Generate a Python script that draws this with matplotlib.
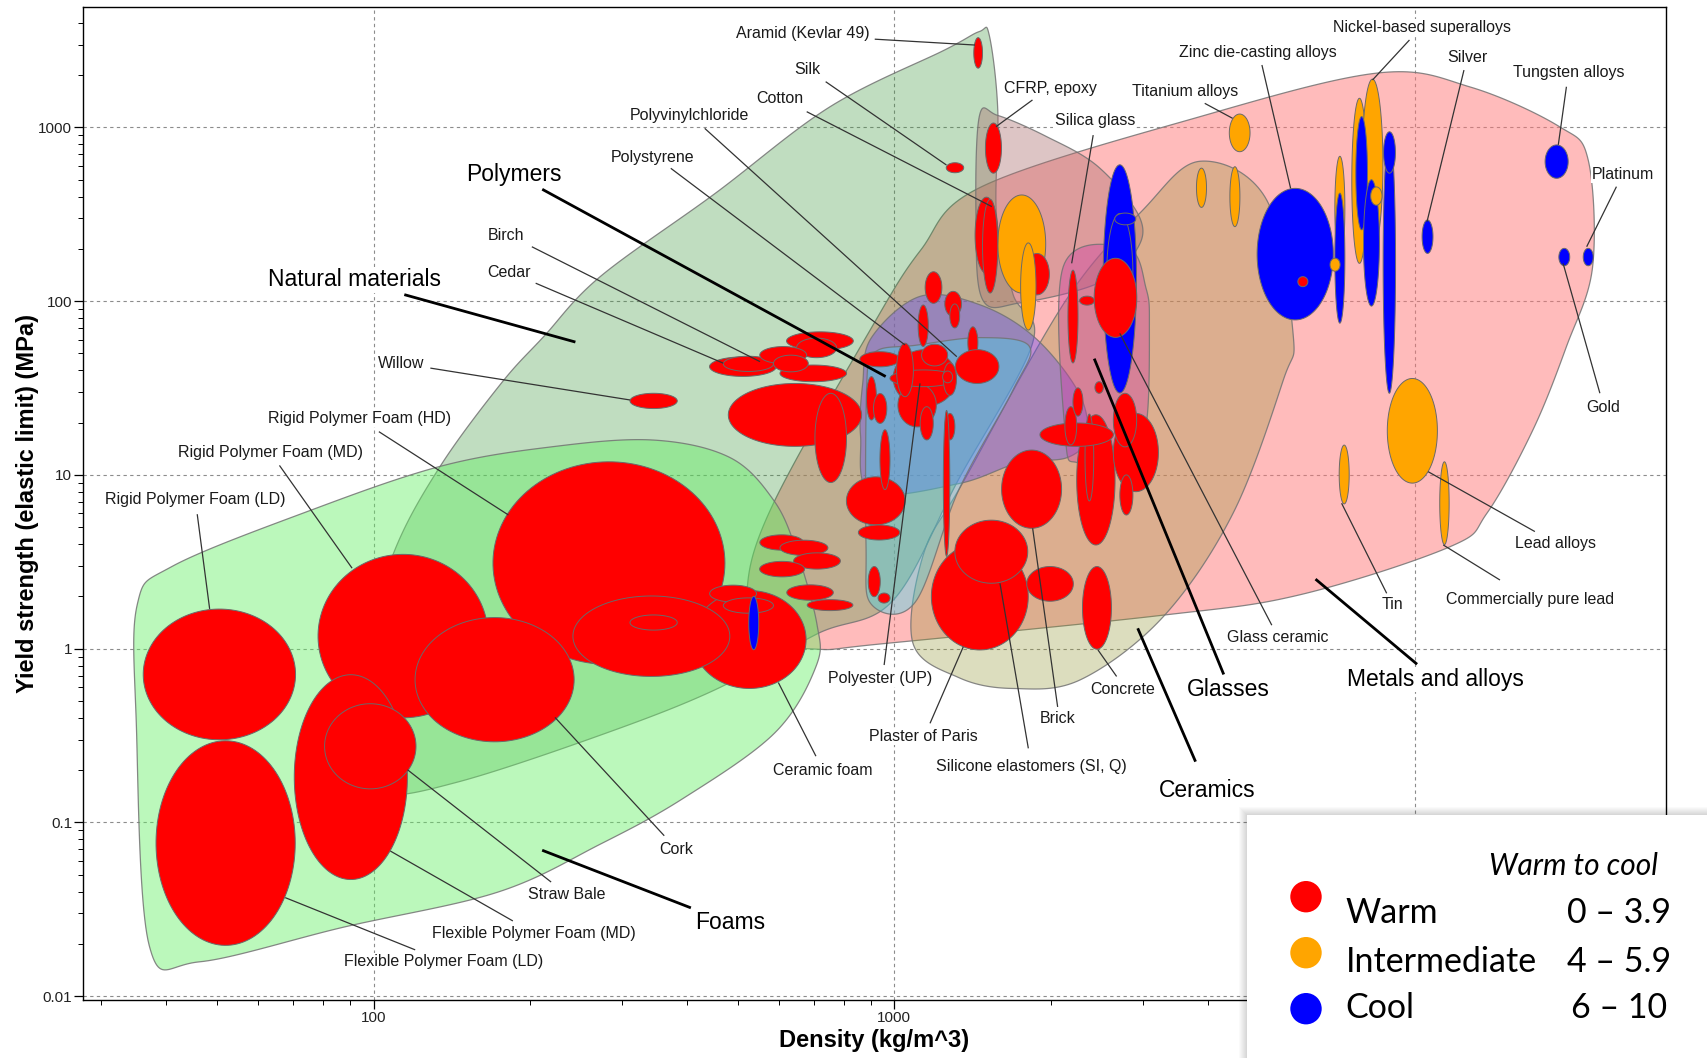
import numpy as np
import matplotlib
matplotlib.use("Agg")
import matplotlib.pyplot as plt
from matplotlib.patches import Circle, Rectangle
from matplotlib.transforms import Affine2D
from matplotlib.ticker import LogLocator, FixedLocator, FixedFormatter, NullFormatter

# ---------------- family envelopes (density kg/m^3, yield strength MPa) ----------------
metals_rho = [521.8, 558.3, 710.3, 948.4, 3240, 6001, 11670, 13750, 16830, 19540, 21930, 21510,
              18890, 12785, 8490, 3870, 1477, 1122, 891, 586]
metals_sig = [2.23, 1.16, 0.993, 1.067, 1.552, 2.04, 3.86, 6.03, 18.07, 54.9, 157.6, 648.5,
              1015, 1706, 2058, 1155, 458.5, 195.6, 65.3, 6.87]
ceramics_rho = [1085, 1329, 1690, 2279, 3287, 4474, 5584, 5831, 5195, 3870, 2999, 2140, 1354, 1139]
ceramics_sig = [1.083, 0.682, 0.590, 0.663, 1.531, 6.03, 35.1, 65.3, 380, 639, 333.8, 102.2, 9.04, 3.54]
natural_rho = [103.4, 93.9, 96.2, 109.6, 134.2, 175.7, 212.1, 272.3, 451.6, 752.7, 1248, 1456, 1521,
               1580, 1572, 1690, 1843, 1329, 995.2, 710.3, 453.8, 272.3, 144.9]
natural_sig = [0.1477, 0.2557, 0.937, 3.64, 11.2, 33.6, 62.5, 138.4, 414.6, 1316, 2787, 3562, 3411,
               1260, 301.6, 109.8, 57.4, 9.44, 1.90, 1.215, 0.582, 0.3175, 0.1706]
composites_rho = [1456, 1580, 1953, 2462, 2955, 2913, 2462, 1748, 1477, 1435]
composites_sig = [1155, 1172, 890.8, 594.8, 306.1, 195.6, 126.9, 97.9, 102.2, 301.6]
polymers_rho = [869.5, 903.9, 1122, 1463, 1862, 2257, 2346, 2151, 1732, 1329, 904, 861.2]
polymers_sig = [33.6, 61.7, 106.7, 95.1, 61.7, 29.97, 16.8, 12.6, 11.72, 8.91, 7.94, 16.8]
elastomers_rho = [886.6, 925.7, 1096, 1463, 1817, 1690, 1329, 1096, 904, 882.3]
elastomers_sig = [37.2, 51.8, 55.7, 61.7, 54.9, 30.8, 8.17, 1.847, 1.795, 3.97]
glasses_rho = [2110, 2803, 3045, 3089, 3045, 2803, 2257, 2130]
glasses_sig = [157.6, 201.4, 118.1, 71.2, 19.4, 12.6, 11.72, 16.8]
foams_rho = [35.16, 41.02, 74.2, 134.2, 221.4, 344.9, 483.1, 586, 648.3, 710.3, 707, 588.8, 392.8,
             272.3, 173.2, 87.8, 46.3, 37.07, 35.0]
foams_sig = [1.795, 2.975, 6.12, 11.2, 14.55, 15.87, 12.6, 7.17, 3.69, 1.38, 0.788, 0.3266, 0.1373,
             0.0749, 0.0397, 0.0250, 0.01576, 0.01956, 0.383]

# ---------------- materials (ranges) ----------------
mat_names = [
    "Rigid Polymer Foam (LD)", "Flexible Polymer Foam (LD)", "Rigid Polymer Foam (MD)",
    "Flexible Polymer Foam (MD)", "Rigid Polymer Foam (HD)", "Ceramic foam", "Cork",
    "Flexible Polymer Foam (HD)", "Balsa (T)", "Straw Bale", "Softwood (T) a", "Softwood (T) b",
    "Metal foam",
    "Hardwood (T) a", "Hardwood (T) b", "Hardwood (T) c", "Hardwood (T) d", "Hardwood (T) e", "Hardwood (T) f",
    "Willow", "Bamboo", "Pine", "Cedar", "Oak", "Ash", "Birch", "Maple", "Beech", "Leather", "Hemp",
    "EVA", "Polyurethane", "Butyl rubber", "Natural rubber",
    "PE", "PP", "Ionomer", "PET", "Polystyrene", "PMMA", "PA", "PC", "ABS", "Neoprene", "Isoprene",
    "PTFE", "Epoxy", "Polyester (UP)", "Silicone (low)", "PVC flexible", "PEEK", "Phenolic", "PVC",
    "Aramid (Kevlar 49)", "Silk", "CFRP, epoxy", "GFRP", "Cotton", "Flax", "Bone", "Glass fibre",
    "Plaster of Paris", "Silicone elastomers (SI, Q)", "Stone", "Brick", "Concrete", "Granite", "Marble",
    "Sandstone", "Limestone", "Porcelain", "Earthenware", "Soda-lime glass", "Borosilicate glass",
    "Pyrex", "Alumina", "Silicon carbide", "Silicon nitride", "Silica glass", "Glass (float)", "Glass ceramic",
    "Titanium alloys", "Magnesium alloys", "Aluminium alloys", "Zinc die-casting alloys", "Zinc (pure)",
    "Stainless steel", "Cast iron", "Carbon steel", "Bronze", "Nickel-based superalloys", "Low alloy steel",
    "Brass", "Nickel alloys", "Copper", "Cobalt alloys", "Silver", "Tungsten alloys", "Gold", "Platinum",
    "Lead alloys", "Tin", "Commercially pure lead",
]
dens_lo = [36.1, 38.2, 78.2, 70.4, 169.5, 410.2, 120.1, 241.4, 310.7, 80.5, 441.9, 469.4, 525.3,
           551.7, 603.1, 640.6, 551.2, 621.5, 680.2,
           310.7, 479.9, 441.7, 469.4, 620.9, 648.9, 551.5, 603.1, 586.0, 703.9, 858.4,
           809, 853, 891, 930.7,
           1146, 1250, 1111, 1384, 1310, 995, 1128, 1016, 981, 884, 912, 1121, 1251, 1242, 938.4, 1010,
           1242, 1238, 1278,
           1421, 1258, 1496, 1580, 1429, 1477, 1779, 1748,
           1178, 1307, 1796, 1607, 2298, 2240, 2634, 2634, 2711, 2324, 1904, 2126, 2203, 2428,
           2518, 2558, 2650, 2155, 2269, 2420,
           4399, 3804, 4410, 4974, 5956, 7015, 7015, 6867, 7561, 7914, 7697, 7962, 8219, 8685, 8702,
           10318, 17775, 18890, 21040, 8846, 7151, 11155]
dens_hi = [70.8, 70.7, 165.9, 116.1, 472.8, 676.9, 242.7, 483.1, 382.9, 120.6, 543.6, 586.0, 549.0,
           669.2, 745.5, 787.8, 672.4, 763.5, 832.6,
           382.9, 865.3, 593.3, 586.0, 834.1, 774.7, 678.6, 809.6, 683.5, 809.4, 1025,
           1049, 1024.5, 939.7, 981.3,
           1234, 1346, 1162, 1447, 1588, 1316, 1266, 1204, 1317, 924, 967.3, 1188, 1307, 1278, 981, 1088,
           1316, 1294, 1335,
           1477, 1359, 1606, 1953, 1581, 1580, 1985, 1871,
           1808, 1804, 2207, 2095, 2612, 2654, 3215, 2920, 2872, 2415, 2635, 2240, 2303, 2520,
           2918, 2872, 2909, 2253, 2424, 2922,
           4821, 3977, 4610, 6967, 6226, 7333, 7333, 7179, 8091, 8676, 8104, 8543, 8643, 9175, 9170,
           10826, 19684, 19820, 21990, 11040, 7474, 11628]
str_lo = [0.299, 0.0196, 0.400, 0.0469, 0.811, 0.590, 0.291, 0.692, 1.279, 0.156, 1.855, 1.60, 0.986,
          3.69, 3.44, 2.87, 2.59, 1.90, 1.656,
          24.1, 14.6, 36.9, 39.4, 52.3, 47.3, 43.7, 34.4, 39.2, 9.04, 41.9,
          5.16, 4.22, 1.99, 1.83,
          97.2, 81.7, 54.9, 46.9, 33.6, 24.8, 42.4, 18.9, 32.2, 20.7, 19.8, 15.9, 15.9, 3.40, 8.23, 28.2,
          28.7, 33.9, 70.2,
          2194, 548.6, 545.5, 111.4, 144.5, 111.4, 108.7, 68.2,
          0.983, 2.38, 1.875, 4.93, 0.993, 3.95, 8.01, 14.5, 5.88, 7.08, 14.6, 14.9, 21.8, 29.5,
          29.6, 65.3, 275.1, 44.1, 94.9, 61.9,
          724.9, 346.6, 268.5, 78.0, 121.2, 173.0, 74.7, 148.8, 165.1, 197.4, 257.6, 93.7, 356.8, 29.5, 545.5,
          188.4, 509.6, 159.9, 159.9, 8.97, 6.81, 3.97]
str_hi = [1.69, 0.295, 3.49, 0.708, 11.9, 2.16, 1.51, 2.01, 1.563, 0.482, 2.32, 1.96, 2.00,
          4.52, 4.21, 3.56, 3.18, 2.33, 1.915,
          29.5, 33.6, 47.8, 48.2, 66.6, 61.3, 54.8, 42.9, 48.9, 29.5, 51.2,
          9.75, 5.15, 2.97, 2.09,
          147.7, 113.9, 95.1, 71.2, 52.6, 52.6, 56.5, 33.6, 40.2, 36.8, 29.4, 24.7, 22.6, 23.5, 18.2, 57.3,
          44.2, 39.6, 96.4,
          3286, 626.4, 1060, 408.6, 396.9, 385.6, 188.2, 216.4,
          4.05, 5.49, 2.97, 13.9, 2.97, 22.2, 22.6, 29.5, 10.0, 22.4, 19.9, 24.7, 31.7, 34.4,
          609.5, 319.6, 321.5, 150.9, 106.9, 176.6,
          1194, 582.9, 594, 446.0, 138.4, 682.3, 418.8, 176.8, 1472, 1898, 1155, 500.1, 454.6, 925, 943.9,
          293.2, 792.9, 201.4, 201.4, 35.9, 14.85, 11.9]
warmth = (["W"] * 12 + ["C"] + ["W"] * 43 + ["I"] + ["W"] * 3 + ["I"] + ["W"] * 14 + ["C"] * 3
          + ["W"] * 3 + ["I"] * 3 + ["C", "W", "I", "C", "I", "I", "I", "C", "C", "I", "C", "C",
                                     "C", "C", "C", "C", "I", "I", "I"])

# ---------------- annotations (label frame positions) ----------------
label_text = ["Aramid (Kevlar 49)", "Silk", "Cotton", "Polyvinylchloride", "Polystyrene", "Birch", "Cedar",
              "Willow", "Rigid Polymer Foam (HD)", "Rigid Polymer Foam (MD)", "Rigid Polymer Foam (LD)",
              "Flexible Polymer Foam (MD)", "Flexible Polymer Foam (LD)", "Straw Bale", "Cork",
              "Ceramic foam", "Polyester (UP)", "Plaster of Paris", "Silicone elastomers (SI, Q)", "Brick",
              "Concrete", "Glass ceramic", "Tin", "Commercially pure lead", "Lead alloys", "Gold",
              "Platinum", "Tungsten alloys", "Silver", "Nickel-based superalloys",
              "Zinc die-casting alloys", "Titanium alloys", "Silica glass", "CFRP, epoxy"]
label_xy = [(0.4585, 0.9733), (0.4612, 0.9371), (0.4441, 0.9086), (0.3874, 0.8911), (0.3641, 0.8483),
            (0.2725, 0.7705), (0.2739, 0.7332), (0.2062, 0.6411), (0.1802, 0.5863), (0.1241, 0.5522),
            (0.0770, 0.5039), (0.2896, 0.0673), (0.2329, 0.0388), (0.3101, 0.1068), (0.3792, 0.1518),
            (0.4708, 0.2319), (0.5070, 0.3240), (0.5343, 0.2659), (0.6020, 0.2352), (0.6184, 0.2834),
            (0.6595, 0.3131), (0.7565, 0.3657), (0.8283, 0.3986), (0.9151, 0.4041), (0.9309, 0.4600),
            (0.9610, 0.5971), (0.9732, 0.8318), (0.9390, 0.9339), (0.8754, 0.9493), (0.8468, 0.9800),
            (0.7442, 0.9547), (0.6984, 0.9152), (0.6417, 0.8856), (0.6136, 0.9185)]
leader_from = [(0.5036, 0.9679), (0.4728, 0.9251), (0.4609, 0.8949), (0.3969, 0.8781), (0.3756, 0.8379),
               (0.2884, 0.7589), (0.2908, 0.7222), (0.2247, 0.6367), (0.1924, 0.5727), (0.1300, 0.5387),
               (0.0784, 0.4896), (0.2765, 0.0800), (0.2152, 0.0509), (0.3005, 0.1192), (0.3715, 0.1658),
               (0.4667, 0.2459), (0.5095, 0.3377), (0.5383, 0.2790), (0.6000, 0.2538), (0.6184, 0.2955),
               (0.6554, 0.3262), (0.7528, 0.3778), (0.8249, 0.4099), (0.8960, 0.4233), (0.9179, 0.4721),
               (0.9587, 0.6114), (0.9691, 0.8194), (0.9377, 0.9200), (0.8734, 0.9368), (0.8392, 0.9671),
               (0.7466, 0.9419), (0.7107, 0.9033), (0.6407, 0.8713), (0.6026, 0.9067)]
leader_to = [(0.5665, 0.9620), (0.5486, 0.8412), (0.5771, 0.7993), (0.5551, 0.6482), (0.5226, 0.6600),
             (0.4316, 0.6432), (0.4086, 0.6416), (0.3500, 0.6046), (0.2737, 0.4888), (0.1756, 0.4352),
             (0.0862, 0.3942), (0.1996, 0.1504), (0.1336, 0.1035), (0.2104, 0.2322), (0.3029, 0.2850),
             (0.4431, 0.3201), (0.5320, 0.6213), (0.5592, 0.3562), (0.5822, 0.4200), (0.6027, 0.4754),
             (0.6437, 0.3529), (0.6574, 0.6717), (0.7966, 0.5006), (0.8604, 0.4586), (0.8509, 0.5324),
             (0.9356, 0.7422), (0.9504, 0.7589), (0.9326, 0.8615), (0.8502, 0.7841), (0.8160, 0.9268),
             (0.7646, 0.8177), (0.7282, 0.8882), (0.6272, 0.7422), (0.5797, 0.8798)]

family_text = ["Polymers", "Natural materials", "Foams", "Glasses", "Ceramics", "Metals and alloys"]
family_xy = [(0.2773, 0.8319), (0.1768, 0.7255), (0.4127, 0.0783), (0.7258, 0.3130), (0.7121, 0.2110),
             (0.8556, 0.3229)]
family_from = [(0.2957, 0.8161), (0.2092, 0.7103), (0.3874, 0.0937), (0.7223, 0.3295), (0.7046, 0.2417),
               (0.8433, 0.3394)]
family_to = [(0.5097, 0.6289), (0.3149, 0.6633), (0.2957, 0.1507), (0.6417, 0.6449), (0.6690, 0.3734),
             (0.7809, 0.4233)]

legend_labels = ["Warm", "Intermediate", "Cool"]
legend_ranges = ["0 \u2013 3.9", "4 \u2013 5.9", "6 \u2013 10"]
x_ticks = [100, 1000, 10000]
x_tick_labels = ["100", "1000", ""]
y_ticks = [0.01, 0.1, 1, 10, 100, 1000]
y_tick_labels = ["0.01", "0.1", "1", "10", "100", "1000"]

# ---------------- helpers ----------------
def smooth_closed(rho, sig, n=24):
    P = np.column_stack([np.log10(rho), np.log10(sig)])
    N = len(P)
    t = np.linspace(0, 1, n, endpoint=False)[:, None]
    segs = []
    for i in range(N):
        p0, p1, p2, p3 = P[(i - 1) % N], P[i], P[(i + 1) % N], P[(i + 2) % N]
        segs.append(0.5 * (2 * p1 + (-p0 + p2) * t + (2 * p0 - 5 * p1 + 4 * p2 - p3) * t ** 2
                           + (-p0 + 3 * p1 - 3 * p2 + p3) * t ** 3))
    out = np.vstack(segs)
    return 10 ** out[:, 0], 10 ** out[:, 1]


def ellipse(xlo, xhi, ylo, yhi, n=140):
    cx, rx = (np.log10(xlo) + np.log10(xhi)) / 2, (np.log10(xhi) - np.log10(xlo)) / 2
    cy, ry = (np.log10(ylo) + np.log10(yhi)) / 2, (np.log10(yhi) - np.log10(ylo)) / 2
    t = np.linspace(0, 2 * np.pi, n)
    return 10 ** (cx + rx * np.cos(t)), 10 ** (cy + ry * np.sin(t))


# ---------------- figure ----------------
fig = plt.figure(figsize=(17.08, 10.58), dpi=100)
ax = fig.add_axes([0.04860, 0.05444, 0.92664, 0.93866])
ax.set_xscale("log")
ax.set_yscale("log")
ax.set_xlim(27.66, 30300)
ax.set_ylim(0.009452, 4914)
ax.set_axisbelow(True)
ax.grid(True, which="major", linestyle=(0, (3, 3)), color="#8c8c8c", linewidth=0.8)

# frame used to place the annotation texts and leaders
label_frame = Affine2D().scale(0.93290, 0.93866).translate(0.04233, 0.05444) + fig.transFigure

envelopes = [
    (metals_rho, metals_sig, (255, 120, 120), 0.50),
    (ceramics_rho, ceramics_sig, (145, 148, 45), 0.31),
    (natural_rho, natural_sig, (60, 150, 60), 0.32),
    (composites_rho, composites_sig, (170, 110, 110), 0.40),
    (polymers_rho, polymers_sig, (92, 70, 245), 0.40),
    (elastomers_rho, elastomers_sig, (65, 215, 235), 0.40),
    (glasses_rho, glasses_sig, (206, 62, 165), 0.40),
    (foams_rho, foams_sig, (100, 240, 100), 0.44),
]
for rr, ss, col, a in envelopes:
    xs, ys = smooth_closed(rr, ss)
    ax.fill(xs, ys, facecolor=(col[0] / 255, col[1] / 255, col[2] / 255, a),
            edgecolor=(0.45, 0.45, 0.45, 0.85), linewidth=0.9, zorder=1)

warm_colors = {"W": "#FF0000", "I": "#FFA500", "C": "#0000FF"}
for i in range(len(mat_names)):
    xs, ys = ellipse(dens_lo[i], dens_hi[i], str_lo[i], str_hi[i])
    ax.fill(xs, ys, facecolor=warm_colors[warmth[i]], edgecolor="#6a6a6a", linewidth=0.7, zorder=3)

small_font = dict(family="Liberation Sans", fontsize=11.5, color="#1a1a1a")
for txt, (tx, ty), (fx, fy), (ex, ey) in zip(label_text, label_xy, leader_from, leader_to):
    ax.plot([fx, ex], [fy, ey], transform=label_frame, color="#333333", linewidth=0.9, zorder=5,
            solid_capstyle="butt")
    ax.text(tx, ty, txt, transform=label_frame, ha="center", va="center", zorder=6,
            bbox=dict(facecolor="white", edgecolor="none", pad=0.8), **small_font)

for txt, (tx, ty), (fx, fy), (ex, ey) in zip(family_text, family_xy, family_from, family_to):
    ax.plot([fx, ex], [fy, ey], transform=label_frame, color="black", linewidth=2.0, zorder=5)
    ax.text(tx, ty, txt, transform=label_frame, ha="center", va="center", zorder=6,
            family="Liberation Sans", fontsize=16.5, color="black",
            bbox=dict(facecolor="white", edgecolor="none", pad=0.8))

# axes styling
ax.xaxis.set_major_locator(FixedLocator(x_ticks))
ax.xaxis.set_major_formatter(FixedFormatter(x_tick_labels))
ax.yaxis.set_major_locator(FixedLocator(y_ticks))
ax.yaxis.set_major_formatter(FixedFormatter(y_tick_labels))
ax.xaxis.set_minor_locator(LogLocator(base=10, subs=np.arange(2, 10)))
ax.yaxis.set_minor_locator(LogLocator(base=10, subs=np.arange(2, 10)))
ax.xaxis.set_minor_formatter(NullFormatter())
ax.yaxis.set_minor_formatter(NullFormatter())
ax.tick_params(which="major", direction="out", length=6.2, width=0.9, labelsize=11,
               labelcolor="#222222", pad=1.5)
ax.tick_params(which="minor", direction="out", length=3.4, width=0.7)
for lab in ax.get_xticklabels() + ax.get_yticklabels():
    lab.set_family("Liberation Sans")
for s in ax.spines.values():
    s.set_linewidth(1.0)
    s.set_color("black")
ax.set_xlabel("Density (kg/m^3)", family="Liberation Sans", fontsize=17, fontweight="bold", labelpad=3)
ax.set_ylabel("Yield strength (elastic limit) (MPa)", family="Liberation Sans", fontsize=17,
              fontweight="bold")
ax.yaxis.set_label_coords(-0.028, 0.5)

# ---------------- legend box ----------------
bx0, by0, bw, bh = 1247, 0, 461, 243  # figure pixels (from bottom-left)
for k in range(1, 9):
    fig.add_artist(Rectangle(((bx0 - k) / 1708, 0), (bw + k) / 1708, (bh + k) / 1058,
                             transform=fig.transFigure, facecolor="black", alpha=0.018,
                             edgecolor="none", zorder=9))
lax = fig.add_axes([bx0 / 1708, by0 / 1058, bw / 1708, bh / 1058])
lax.set_zorder(10)
lax.set_facecolor("white")
lax.set_xlim(0, bw)
lax.set_ylim(bh, 0)
lax.set_xticks([])
lax.set_yticks([])
for s in lax.spines.values():
    s.set_visible(False)

lax.text(411, 60, "Warm to cool", ha="right", va="baseline", family="Lato", style="italic",
         fontsize=21.5, color="black")
circle_y = [81.7, 137.7, 193.7]
base_y = [107.7, 156.7, 203.3]
for lab, rng, cy, by, key in zip(legend_labels, legend_ranges, circle_y, base_y, ["W", "I", "C"]):
    lax.add_patch(Circle((59, cy), 15.7, facecolor=warm_colors[key], edgecolor="none"))
    lax.text(98.7, by, lab, ha="left", va="baseline", family="Lato", fontsize=24.5, color="black")
    lax.text(372, by, rng, ha="center", va="baseline", family="Lato", fontsize=24.5, color="black")

fig.savefig("out.png", dpi=100)
